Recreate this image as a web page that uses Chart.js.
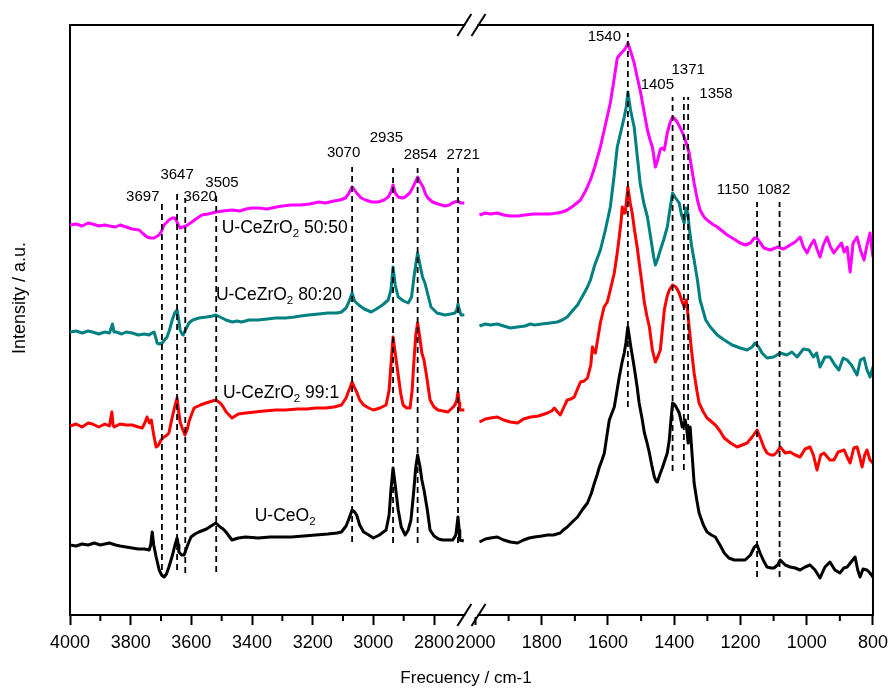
<!DOCTYPE html>
<html><head><meta charset="utf-8">
<script src="https://cdn.jsdelivr.net/npm/chart.js@4.4.1/dist/chart.umd.min.js"></script>
<style>html,body{margin:0;padding:0;background:#fff;}canvas{display:block;}</style>
</head><body>
<canvas id="c" width="895" height="689"></canvas>
<script>
// ---------- DATA ----------
const majorTicks = [4000,3800,3600,3400,3200,3000,2800,2000,1800,1600,1400,1200,1000,800];
const minorTicks = [3900,3700,3500,3300,3100,2900,1900,1700,1500,1300,1100,900];

// U-CeZrO2 50:50 (magenta)
const zr5050Left = [[4000,390],[3980,391],[3960,389],[3940,392],[3926,391],[3905,389],[3885,390],[3870,389],[3850,388],[3835,390],[3815,388],[3795,386],[3772,385],[3758,381],[3746,378],[3735,377],[3723,377],[3712,379],[3706,380],[3698,384],[3690,390],[3680,393],[3674,395],[3663,397],[3655,397],[3650,395],[3643,390],[3637,387],[3628,388],[3618,389],[3608,391],[3598,393],[3585,396],[3565,400],[3545,401],[3519,403],[3495,404],[3466,405],[3440,404],[3420,406],[3400,407],[3378,407],[3350,406],[3320,408],[3300,409],[3270,410],[3240,410],[3210,411],[3180,413],[3158,412],[3130,414],[3110,415],[3092,417],[3082,421],[3070,428],[3062,425],[3055,422],[3040,417],[3026,415],[3005,413],[2984,413],[2965,415],[2951,418],[2942,423],[2935,430],[2928,422],[2918,418],[2905,417],[2895,418],[2880,422],[2869,428],[2860,434],[2854,438],[2846,433],[2836,428],[2828,421],[2820,417],[2805,413],[2787,411],[2775,410],[2764,409],[2750,410],[2740,412],[2731,413],[2721,414],[2712,412],[2700,412]];
const zr5050Right = [[1988,400],[1970,402],[1955,401],[1934,402],[1915,400],[1895,399],[1873,399],[1850,400],[1825,401],[1800,401],[1775,401],[1753,402],[1738,403],[1723,405],[1705,409],[1683,415],[1668,424],[1653,435],[1640,448],[1623,468],[1608,490],[1593,512],[1582,535],[1572,557],[1560,562],[1551,565],[1545,568],[1540,572],[1530,562],[1521,552],[1512,538],[1503,525],[1492,505],[1481,485],[1472,474],[1466,468],[1460,455],[1457,448],[1450,455],[1442,466],[1436,467],[1430,465],[1421,482],[1413,492],[1405,498],[1398,496],[1391,493],[1380,486],[1370,478],[1362,470],[1355,462],[1348,448],[1340,432],[1330,415],[1322,405],[1310,398],[1301,395],[1285,391],[1270,388],[1255,384],[1240,380],[1220,376],[1201,372],[1185,370],[1170,372],[1158,377],[1150,377],[1140,372],[1129,367],[1110,365],[1095,367],[1089,368],[1070,366],[1050,370],[1035,373],[1020,378],[1010,368],[999,362],[988,370],[978,375],[968,365],[960,358],[950,370],[939,378],[928,368],[918,362],[905,368],[895,372],[887,363],[878,368],[869,343],[860,372],[848,378],[838,365],[827,355],[818,370],[809,382],[800,358]];

// U-CeZrO2 80:20 (teal)
const zr8020Left = [[4000,283],[3980,284],[3960,282],[3940,284],[3926,283],[3905,281],[3885,283],[3870,282],[3860,291],[3855,283],[3847,283],[3830,281],[3815,283],[3795,282],[3775,280],[3755,281],[3739,280],[3730,282],[3723,283],[3716,276],[3713,272],[3705,271],[3696,272],[3688,275],[3680,278],[3672,285],[3663,295],[3655,302],[3647,305],[3642,296],[3637,285],[3631,281],[3627,280],[3618,286],[3608,292],[3595,295],[3575,297],[3550,298],[3530,299],[3519,300],[3505,298],[3486,295],[3465,293],[3450,294],[3434,293],[3410,295],[3380,295],[3350,296],[3322,297],[3290,297],[3260,298],[3240,299],[3214,300],[3180,301],[3150,302],[3120,302],[3105,303],[3090,307],[3082,312],[3070,322],[3062,314],[3048,310],[3030,306],[3007,303],[2990,306],[2970,310],[2951,315],[2942,325],[2935,348],[2928,330],[2918,318],[2900,314],[2885,312],[2874,318],[2866,338],[2858,355],[2854,362],[2846,350],[2838,338],[2830,332],[2820,320],[2810,308],[2790,302],[2764,300],[2745,301],[2731,302],[2725,305],[2721,311],[2716,305],[2711,300],[2700,300]];
const zr8020Right = [[1988,289],[1970,291],[1955,290],[1934,291],[1915,289],[1895,287],[1873,288],[1850,289],[1835,291],[1822,290],[1800,291],[1775,292],[1753,293],[1738,295],[1723,298],[1708,304],[1692,310],[1675,320],[1662,328],[1653,335],[1640,350],[1623,365],[1608,385],[1593,408],[1582,438],[1572,468],[1560,485],[1551,498],[1545,508],[1540,523],[1532,505],[1521,488],[1512,460],[1503,432],[1492,412],[1481,398],[1470,375],[1462,358],[1457,350],[1450,356],[1442,365],[1432,375],[1421,388],[1412,408],[1405,422],[1398,418],[1385,412],[1378,400],[1370,392],[1364,407],[1358,400],[1355,388],[1348,370],[1340,355],[1330,335],[1322,315],[1305,295],[1291,288],[1270,280],[1249,275],[1225,270],[1201,267],[1180,265],[1165,268],[1156,272],[1145,268],[1135,262],[1120,257],[1100,258],[1080,262],[1060,260],[1045,263],[1029,258],[1010,266],[993,265],[980,258],[970,262],[960,248],[945,258],[930,258],[915,250],[903,245],[890,257],[878,255],[865,250],[848,240],[838,255],[827,257],[818,245],[809,238],[800,248]];

// U-CeZrO2 99:1 (red)
const zr991Left = [[4000,189],[3980,191],[3960,188],[3940,192],[3926,191],[3905,188],[3885,191],[3870,189],[3862,203],[3858,190],[3854,188],[3835,191],[3815,190],[3795,190],[3775,188],[3762,187],[3752,193],[3746,198],[3738,192],[3732,195],[3724,180],[3716,168],[3708,170],[3700,175],[3690,178],[3680,180],[3674,182],[3665,195],[3655,208],[3647,217],[3642,204],[3637,193],[3629,186],[3621,180],[3613,186],[3608,193],[3600,200],[3591,207],[3570,210],[3552,212],[3530,214],[3519,215],[3505,212],[3499,210],[3485,203],[3466,197],[3445,201],[3421,202],[3390,203],[3360,204],[3322,205],[3290,205],[3250,206],[3220,206],[3190,207],[3158,207],[3130,208],[3105,210],[3090,217],[3080,225],[3070,233],[3063,228],[3055,223],[3045,215],[3032,210],[3015,207],[3000,205],[2978,207],[2958,210],[2948,225],[2942,250],[2935,278],[2928,262],[2918,240],[2910,222],[2902,210],[2890,207],[2879,207],[2872,225],[2866,255],[2860,280],[2854,292],[2848,280],[2840,262],[2833,255],[2825,240],[2813,215],[2800,208],[2787,205],[2770,204],[2754,203],[2740,207],[2731,210],[2725,215],[2721,223],[2717,212],[2715,205],[2700,205]];
const zr991Right = [[1988,193],[1970,196],[1955,197],[1934,198],[1915,195],[1895,193],[1873,192],[1855,196],[1834,198],[1810,199],[1783,202],[1770,204],[1762,207],[1752,203],[1744,200],[1733,208],[1723,215],[1712,216],[1702,218],[1692,226],[1683,233],[1672,234],[1662,237],[1652,250],[1647,268],[1642,263],[1638,262],[1630,278],[1623,292],[1612,308],[1602,313],[1591,328],[1581,342],[1573,360],[1566,378],[1560,395],[1557,408],[1552,402],[1548,402],[1544,415],[1540,428],[1533,412],[1527,402],[1520,385],[1512,368],[1503,345],[1497,330],[1490,312],[1482,298],[1475,288],[1466,265],[1457,253],[1450,258],[1442,265],[1436,285],[1430,305],[1422,318],[1415,325],[1405,330],[1395,328],[1385,322],[1378,315],[1370,308],[1364,315],[1360,305],[1355,288],[1348,265],[1340,242],[1332,225],[1325,212],[1312,203],[1301,197],[1290,194],[1276,190],[1262,184],[1249,177],[1230,172],[1210,168],[1195,170],[1180,172],[1165,178],[1150,185],[1141,178],[1130,168],[1120,162],[1108,160],[1099,160],[1090,163],[1080,168],[1065,162],[1050,163],[1035,160],[1020,158],[1005,166],[990,168],[980,160],[969,145],[958,160],[948,162],[930,155],[918,155],[905,163],[887,165],[878,158],[869,152],[858,167],[848,168],[840,158],[833,148],[825,160],[818,165],[809,155],[800,152]];

// U-CeO2 (black)
const ceo2Left = [[4000,70],[3980,69],[3960,71],[3940,70],[3920,72],[3900,70],[3885,71],[3870,72],[3850,70],[3835,69],[3815,68],[3795,67],[3775,66],[3755,66],[3739,65],[3734,70],[3729,83],[3724,70],[3716,58],[3706,45],[3698,40],[3690,38],[3682,41],[3674,48],[3662,60],[3654,70],[3647,77],[3643,70],[3641,63],[3632,60],[3624,60],[3612,70],[3601,78],[3588,81],[3575,83],[3550,86],[3535,89],[3519,92],[3505,88],[3495,86],[3486,83],[3476,79],[3466,75],[3445,77],[3421,78],[3380,77],[3340,78],[3300,78],[3270,78],[3230,79],[3190,80],[3150,81],[3120,82],[3105,83],[3090,89],[3082,95],[3070,105],[3062,103],[3055,100],[3045,90],[3032,83],[3015,80],[3000,77],[2980,80],[2958,85],[2948,100],[2942,125],[2935,147],[2928,130],[2918,105],[2908,88],[2895,80],[2885,85],[2876,95],[2868,120],[2860,148],[2854,160],[2846,148],[2840,135],[2833,125],[2822,105],[2813,85],[2800,79],[2785,76],[2771,75],[2755,75],[2738,75],[2728,80],[2721,98],[2717,85],[2715,75],[2702,74]];
const ceo2Right = [[1988,73],[1970,76],[1955,77],[1934,78],[1915,75],[1895,73],[1873,72],[1855,75],[1838,77],[1822,78],[1800,79],[1783,80],[1765,80],[1744,82],[1735,85],[1723,88],[1708,93],[1692,98],[1678,105],[1662,112],[1650,122],[1641,132],[1633,140],[1626,148],[1618,155],[1611,162],[1603,180],[1596,195],[1588,202],[1581,208],[1574,222],[1566,238],[1558,252],[1551,262],[1546,272],[1540,288],[1531,268],[1521,248],[1512,228],[1506,212],[1498,198],[1490,182],[1482,172],[1475,162],[1468,150],[1460,138],[1455,134],[1451,133],[1444,140],[1436,147],[1428,155],[1421,162],[1415,175],[1410,195],[1405,212],[1398,210],[1391,206],[1385,202],[1380,195],[1376,188],[1370,192],[1367,195],[1362,185],[1358,172],[1355,182],[1352,188],[1346,160],[1340,132],[1332,115],[1325,102],[1312,90],[1301,83],[1288,80],[1276,78],[1262,70],[1249,62],[1235,57],[1219,55],[1200,55],[1186,55],[1170,60],[1158,68],[1150,70],[1141,62],[1130,54],[1120,48],[1108,47],[1099,47],[1088,50],[1080,55],[1065,50],[1050,48],[1035,47],[1020,45],[1005,48],[990,50],[975,45],[960,37],[945,48],[930,53],[915,45],[900,42],[888,47],[878,48],[866,53],[854,58],[846,45],[839,38],[830,46],[818,45],[809,42],[800,38]];

// reference lines: position, lower and upper intensity
const markerPos    = [3697,3647,3620,3518,3070,2935,2854,2721,1540,1405,1371,1358,1150,1082];
const markerLow    = [45,45,42,43,73,72,72,72,208,144,145,185,38,38];
const markerHigh   = [415,425,417,422,448,447,447,447,582,518,518,518,413,413];
// peak labels: text, anchor wavenumber, anchor intensity
const peakText = ['3697','3647','3620','3505','3070','2935','2854','2721','1540','1405','1371','1358','1150','1082'];
const peakAtX  = [3760,3647,3571,3499,3098,2957,2845,2704,1611,1451,1358,1274,1223,1100];
const peakAtY  = [418,440,418,432,462,477,460,460,578,530,545,521,425,425];
// series names
const seriesNames = [['U-CeZrO','2',' 50:50'],['U-CeZrO','2',' 80:20'],['U-CeZrO','2',' 99:1'],['U-CeO','2','']];
const seriesNameX = [3500,3519,3496,3391];
const seriesNameY = [387,320,222,99];
const xTitle = 'Frecuency / cm-1', yTitle = 'Intensity / a.u.';

// ---------- BROKEN AXIS ----------
const SEG_L = [4000, 2700], SEG_R = [2000, 800];
const FRAC_L_END = 0.4911, FRAC_R_START = 0.505;
class BrokenAxis extends Chart.LinearScale {
  buildTicks() {
    this.start = this.min; this.end = this.max;
    return majorTicks.map(v => ({ value: v }));
  }
  getPixelForValue(value) {
    let f;
    if (value >= SEG_L[1]) f = (SEG_L[0] - value) / (SEG_L[0] - SEG_L[1]) * FRAC_L_END;
    else f = FRAC_R_START + (SEG_R[0] - value) / (SEG_R[0] - SEG_R[1]) * (1 - FRAC_R_START);
    return this.getPixelForDecimal(f);
  }
  getValueForPixel(pixel) {
    const f = this.getDecimalForPixel(pixel);
    if (f <= FRAC_L_END) return SEG_L[0] - f / FRAC_L_END * (SEG_L[0] - SEG_L[1]);
    return SEG_R[0] - (f - FRAC_R_START) / (1 - FRAC_R_START) * (SEG_R[0] - SEG_R[1]);
  }
}
BrokenAxis.id = 'broken';
BrokenAxis.defaults = {};
Chart.register(BrokenAxis);

const FONT = "'Liberation Sans', Arial, sans-serif";

function toPoints(left, right) {
  return left.map(p => ({ x: p[0], y: p[1] }))
    .concat([{ x: 2350, y: null }])
    .concat(right.map(p => ({ x: p[0], y: p[1] })));
}
function spectrum(label, left, right, color, order) {
  return { label, data: toPoints(left, right), borderColor: color, backgroundColor: color,
    borderWidth: 3, pointRadius: 0, tension: 0, order, borderJoinStyle: 'round', spanGaps: false };
}
const markerSets = markerPos.map((p, i) => ({
  label: 'm' + i, data: [{ x: p, y: markerLow[i] }, { x: p, y: markerHigh[i] }],
  borderColor: '#000', borderWidth: 1.8, borderDash: [6, 4], pointRadius: 0, order: 0
}));

const decorPlugin = {
  id: 'decor',
  afterDatasetsDraw(chart) {
    const ctx = chart.ctx, xs = chart.scales.x, ys = chart.scales.y;
    ctx.save();
    ctx.fillStyle = '#000';
    ctx.textAlign = 'center'; ctx.textBaseline = 'middle';
    ctx.font = '15px ' + FONT;
    peakText.forEach((t, i) => ctx.fillText(t, xs.getPixelForValue(peakAtX[i]), ys.getPixelForValue(peakAtY[i])));
    ctx.textAlign = 'left';
    seriesNames.forEach((parts, i) => {
      let x = xs.getPixelForValue(seriesNameX[i]); const y = ys.getPixelForValue(seriesNameY[i]);
      ctx.font = '17.5px ' + FONT; ctx.fillText(parts[0], x, y); x += ctx.measureText(parts[0]).width;
      ctx.font = '11.5px ' + FONT; ctx.fillText(parts[1], x, y + 6); x += ctx.measureText(parts[1]).width;
      ctx.font = '17.5px ' + FONT; ctx.fillText(parts[2], x, y);
    });
    ctx.restore();
  },
  afterDraw(chart) {
    const ctx = chart.ctx, xs = chart.scales.x, a = chart.chartArea;
    ctx.save();
    ctx.strokeStyle = '#000'; ctx.lineWidth = 2; ctx.lineCap = 'butt';
    // top and right frame
    ctx.beginPath(); ctx.moveTo(a.left - 1, a.top); ctx.lineTo(a.right + 1, a.top); ctx.stroke();
    ctx.beginPath(); ctx.moveTo(a.right, a.top); ctx.lineTo(a.right, a.bottom + 1); ctx.stroke();
    // minor ticks
    minorTicks.forEach(v => { const x = xs.getPixelForValue(v);
      ctx.beginPath(); ctx.moveTo(x, a.bottom); ctx.lineTo(x, a.bottom + 6); ctx.stroke(); });
    // axis break
    const b1 = xs.getPixelForValue(SEG_L[1]), b2 = xs.getPixelForValue(SEG_R[0]) + 3;
    [a.top, a.bottom].forEach(y => {
      ctx.fillStyle = '#fff'; ctx.fillRect(b1 + 1, y - 2, b2 - b1 - 2, 4);
      [b1, b2].forEach(x => { ctx.beginPath(); ctx.moveTo(x - 7, y + 11); ctx.lineTo(x + 7, y - 11); ctx.stroke(); });
    });
    // axis titles
    ctx.fillStyle = '#000'; ctx.textAlign = 'center'; ctx.textBaseline = 'middle';
    ctx.font = '17px ' + FONT;
    ctx.fillText(xTitle, a.left + 396, a.bottom + 63);
    ctx.save();
    ctx.translate(20, a.top + 273); ctx.rotate(-Math.PI / 2);
    ctx.font = '18px ' + FONT;
    ctx.fillText(yTitle, 0, 0);
    ctx.restore();
    ctx.restore();
  }
};

new Chart(document.getElementById('c'), {
  type: 'line',
  data: { datasets: [
    ...markerSets,
    spectrum('U-CeZrO2 50:50', zr5050Left, zr5050Right, '#ff00ff', 1),
    spectrum('U-CeZrO2 80:20', zr8020Left, zr8020Right, '#008080', 2),
    spectrum('U-CeZrO2 99:1', zr991Left, zr991Right, '#ff0000', 3),
    spectrum('U-CeO2', ceo2Left, ceo2Right, '#000000', 4)
  ] },
  options: {
    responsive: false, devicePixelRatio: 1, animation: false,
    layout: { padding: { left: 0, right: 18, top: 25, bottom: 0 } },
    plugins: { legend: { display: false }, tooltip: { enabled: false } },
    scales: {
      x: {
        type: 'broken', min: 800, max: 4000,
        afterFit: s => { s.height = 74; },
        grid: { drawOnChartArea: false, drawTicks: true, tickLength: 10, tickWidth: 2, tickColor: '#000' },
        border: { display: true, width: 2, color: '#000' },
        ticks: { autoSkip: false, maxRotation: 0, padding: 7, color: '#000', font: { family: FONT, size: 18 },
          callback: v => String(v) },
        title: { display: false }
      },
      y: {
        min: 0, max: 590,
        afterFit: s => { s.width = 70; },
        grid: { drawOnChartArea: false, drawTicks: false },
        border: { display: true, width: 2, color: '#000' },
        ticks: { display: false },
        title: { display: false }
      }
    }
  },
  plugins: [decorPlugin]
});
</script></body></html>
